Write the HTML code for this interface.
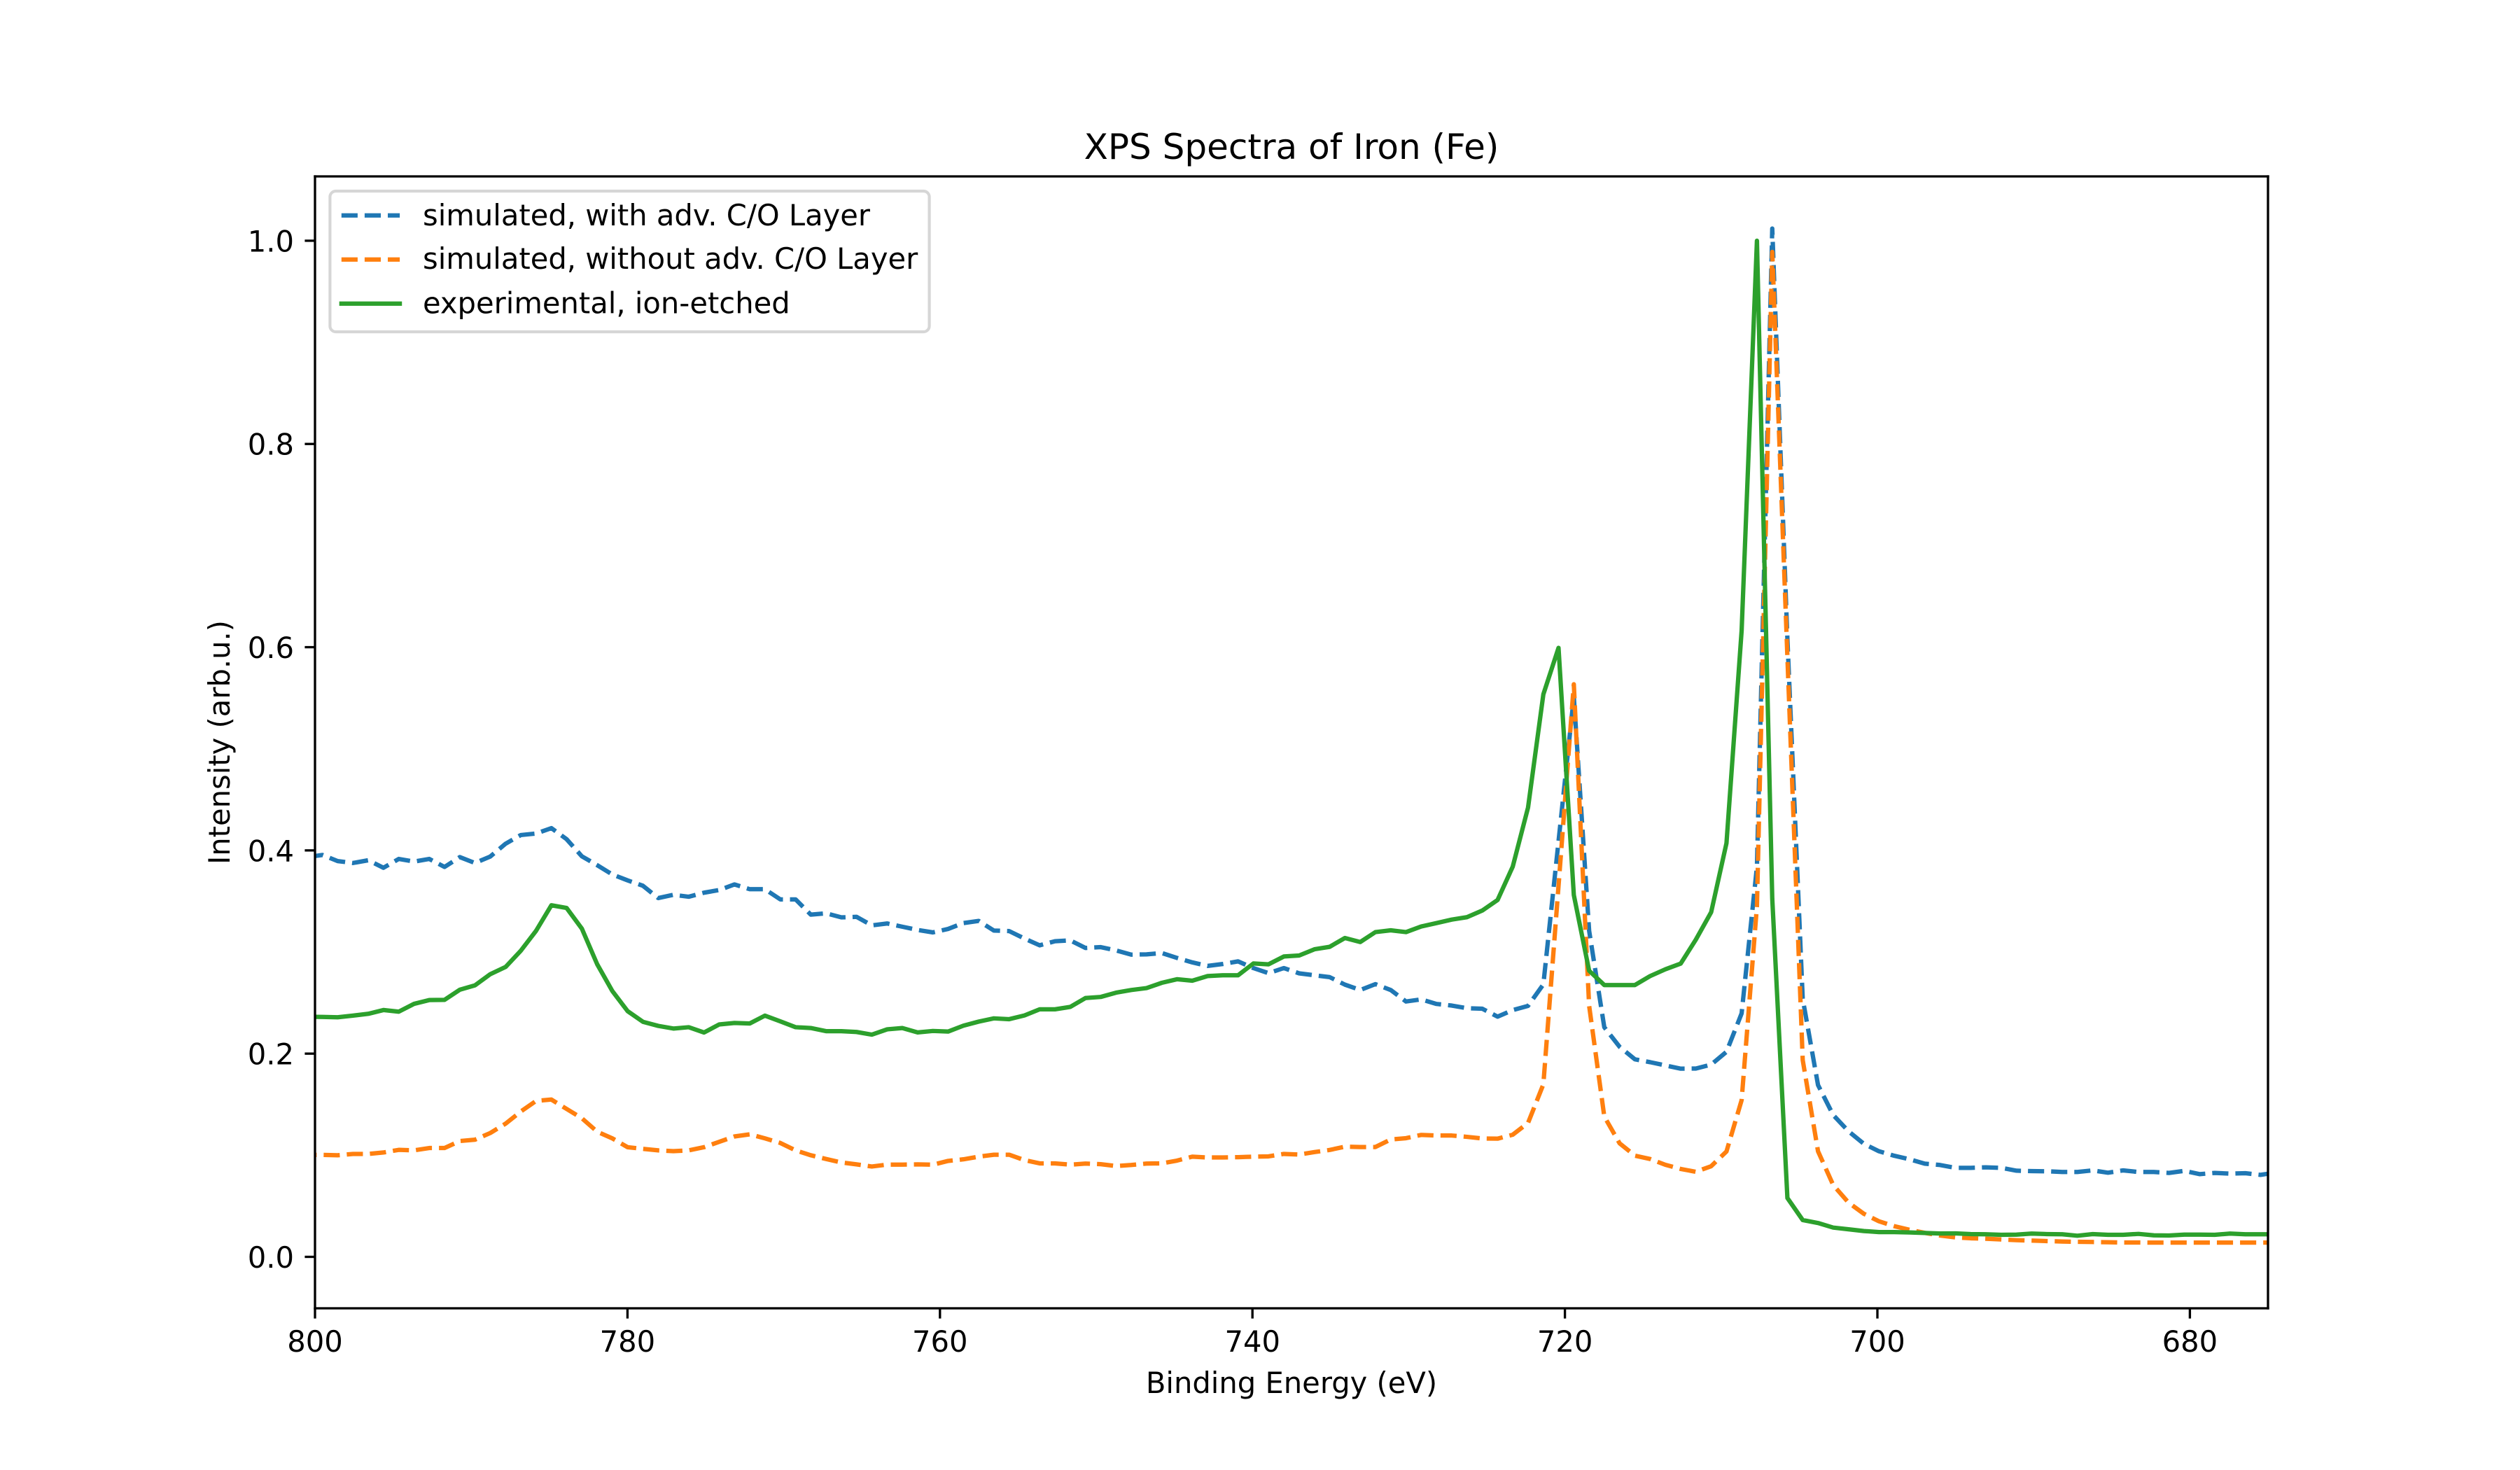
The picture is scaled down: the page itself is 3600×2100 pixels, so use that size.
<!DOCTYPE html>
<html lang="en">
<head>
<meta charset="utf-8">
<title>XPS Spectra of Iron (Fe)</title>
<style>
html,body{margin:0;padding:0;background:#fff;width:3600px;height:2100px;overflow:hidden}
svg{display:block}
text{font-family:"DejaVu Sans",sans-serif;fill:#000}
</style>
</head>
<body>
<svg id="chart" xmlns="http://www.w3.org/2000/svg" width="3600" height="2100" viewBox="0 0 3600 2100">
  <defs><clipPath id="plot-clip"><rect x="450" y="252" width="2790" height="1617"/></clipPath></defs>
  <rect x="0" y="0" width="3600" height="2100" fill="#fff"/>
  <g id="series-layer" clip-path="url(#plot-clip)"></g>
  <g id="tick-layer"></g>
  <g stroke="#000" stroke-width="3.33" fill="none" stroke-linecap="square">
    <line x1="450" y1="252" x2="450" y2="1869"/>
    <line x1="3240" y1="252" x2="3240" y2="1869"/>
    <line x1="450" y1="252" x2="3240" y2="252"/>
    <line x1="450" y1="1869" x2="3240" y2="1869"/>
  </g>
  <text x="1845" y="227" font-size="50" text-anchor="middle">XPS Spectra of Iron (Fe)</text>
  <text x="1845" y="1990" font-size="41.67" text-anchor="middle">Binding Energy (eV)</text>
  <text transform="translate(328,1060.5) rotate(-90)" font-size="41.67" text-anchor="middle">Intensity (arb.u.)</text>
  <g>
    <rect x="471.4" y="273" width="856.2" height="201" rx="8.3" ry="8.3" fill="#fff" fill-opacity="0.8" stroke="#d6d6d6" stroke-width="4.17"/>
    <g>
      <line x1="487.8" y1="307.7" x2="571.1" y2="307.7" stroke="#1f77b4" stroke-width="6.25" stroke-dasharray="23.1 10"/>
      <text x="604" y="322" font-size="41.67">simulated, with adv. C/O Layer</text>
    </g>
    <g>
      <line x1="487.8" y1="370.7" x2="571.1" y2="370.7" stroke="#ff7f0e" stroke-width="6.25" stroke-dasharray="23.1 10"/>
      <text x="604" y="384" font-size="41.67">simulated, without adv. C/O Layer</text>
    </g>
    <g>
      <line x1="487.8" y1="433.7" x2="571.1" y2="433.7" stroke="#2ca02c" stroke-width="6.25" stroke-linecap="square"/>
      <text x="604" y="447.3" font-size="41.67">experimental, ion-etched</text>
    </g>
  </g>
</svg>
<script>
const energies = [800.50,799.52,798.55,797.57,796.59,795.62,794.64,793.66,792.69,791.71,790.73,789.76,788.78,787.80,786.83,785.85,784.87,783.90,782.92,781.94,780.97,779.99,779.01,778.03,777.06,776.08,775.10,774.13,773.15,772.17,771.20,770.22,769.24,768.27,767.29,766.31,765.34,764.36,763.38,762.41,761.43,760.45,759.48,758.50,757.52,756.55,755.57,754.59,753.62,752.64,751.66,750.69,749.71,748.73,747.76,746.78,745.80,744.83,743.85,742.87,741.90,740.92,739.94,738.97,737.99,737.01,736.03,735.06,734.08,733.10,732.13,731.15,730.17,729.20,728.22,727.24,726.27,725.29,724.31,723.34,722.36,721.38,720.41,719.43,718.45,717.48,716.50,715.52,714.55,713.57,712.59,711.62,710.64,709.66,708.69,707.71,706.73,705.76,704.78,703.80,702.83,701.85,700.87,699.90,698.92,697.94,696.97,695.99,695.01,694.03,693.06,692.08,691.10,690.13,689.15,688.17,687.20,686.22,685.24,684.27,683.29,682.31,681.34,680.36,679.38,678.41,677.43,676.45,675.48,674.50];
const withLayer = [.3934,.3955,.3895,.3876,.3903,.3829,.3916,.3890,.3916,.3837,.3934,.3876,.3940,.4066,.4151,.4166,.4219,.4111,.3942,.3855,.3763,.3705,.3652,.3531,.3563,.3544,.3584,.3610,.3665,.3618,.3618,.3518,.3518,.3368,.3381,.3341,.3346,.3262,.3281,.3249,.3217,.3193,.3227,.3285,.3306,.3211,.3206,.3132,.3066,.3106,.3114,.3040,.3048,.3016,.2974,.2977,.2990,.2942,.2898,.2863,.2882,.2908,.2842,.2792,.2842,.2790,.2771,.2753,.2679,.2626,.2684,.2626,.2513,.2534,.2489,.2473,.2447,.2442,.2364,.2428,.2470,.2682,.4088,.5512,.3209,.2260,.2067,.1944,.1916,.1884,.1852,.1853,.1892,.2018,.2396,.384,1.012,.608,.2540,.1691,.1396,.1236,.1113,.1039,.0995,.0960,.0917,.0904,.0876,.0876,.0881,.0876,.0848,.0844,.0842,.0835,.0835,.0851,.0828,.0851,.0835,.0835,.0826,.0846,.0814,.0826,.0819,.0823,.0807,.0830];
const withoutLayer = [.1003,.1003,.1000,.1013,.1013,.1027,.1053,.1048,.1071,.1071,.1140,.1153,.1219,.1311,.1430,.1535,.1548,.1456,.1364,.1232,.1166,.1079,.1063,.1048,.1040,.1048,.1079,.1132,.1185,.1206,.1166,.1121,.1048,.1000,.0963,.0929,.0910,.0889,.0908,.0908,.0910,.0907,.0944,.0960,.0986,.1005,.1005,.0952,.0920,.0920,.0907,.0918,.0912,.0894,.0904,.0918,.0920,.0947,.0986,.0978,.0978,.0981,.0986,.0989,.1013,.1007,.1031,.1052,.1084,.1081,.1081,.1155,.1168,.1200,.1194,.1194,.1181,.1165,.1163,.1202,.1318,.1698,.3649,.5635,.2471,.1381,.1117,.0996,.0963,.0906,.0865,.0837,.0892,.1037,.1542,.345,.989,.59,.1937,.1039,.0707,.0534,.0424,.0350,.0302,.0266,.0236,.0210,.0192,.0183,.0178,.0171,.0164,.0160,.0155,.0151,.0148,.0146,.0144,.0141,.0141,.0140,.0140,.0140,.0140,.0140,.0140,.0140,.0140,.0140];
const experimental = [.2363,.2361,.2358,.2374,.2392,.2429,.2413,.2490,.2527,.2529,.2629,.2672,.2782,.2853,.3012,.3209,.3460,.3434,.3230,.2880,.2616,.2418,.2313,.2273,.2247,.2260,.2208,.2287,.2302,.2297,.2374,.2318,.2260,.2252,.2221,.2221,.2213,.2187,.2239,.2252,.2209,.2223,.2217,.2275,.2315,.2347,.2339,.2376,.2436,.2436,.2460,.2547,.2558,.2600,.2626,.2645,.2697,.2732,.2718,.2763,.2771,.2771,.2887,.2879,.2956,.2966,.3027,.3051,.3138,.3098,.3196,.3214,.3196,.3251,.3285,.3319,.3343,.3408,.3512,.3840,.4422,.5536,.5993,.3561,.2816,.2675,.2675,.2675,.2763,.2830,.2886,.3122,.3392,.4071,.6162,1.0,.3526,.0579,.0362,.0333,.0288,.0271,.0254,.0244,.0244,.0240,.0235,.0230,.0231,.0224,.0222,.0217,.0219,.0229,.0224,.0222,.0208,.0224,.0217,.0217,.0226,.0212,.0210,.0219,.0219,.0217,.0229,.0222,.0222,.0222];
const xTickLabels = ["800","780","760","740","720","700","680"];
const yTickLabels = ["0.0","0.2","0.4","0.6","0.8","1.0"];

const SVG_NS = "http://www.w3.org/2000/svg";
function xScale(e){ return 450 + (800 - e) * 22.32; }
function yScale(v){ return 1795.5 - v * 1451.6; }

const seriesLayer = document.getElementById("series-layer");
const tickLayer = document.getElementById("tick-layer");

function drawSeries(values, colour, dashOffset, name){
  const path = document.createElementNS(SVG_NS, "path");
  
  
  let d = "";
  for (let i = 0; i < values.length; i++) {
    d += (i ? "L" : "M") + xScale(energies[i]).toFixed(2) + " " + yScale(values[i]).toFixed(2);
  }
  path.setAttribute("d", d);
  path.setAttribute("fill", "none");
  path.setAttribute("stroke", colour);
  path.setAttribute("stroke-width", "6.25");
  path.setAttribute("stroke-linejoin", "round");
  if (dashOffset !== null) {
    path.setAttribute("stroke-dasharray", "23.1 10");
    path.setAttribute("stroke-dashoffset", dashOffset);
  }
  seriesLayer.appendChild(path);
}
drawSeries(withLayer, "#1f77b4", 0, "series-simulated-with-layer");
drawSeries(withoutLayer, "#ff7f0e", 9.6, "series-simulated-without-layer");
drawSeries(experimental, "#2ca02c", null, "series-experimental");

xTickLabels.forEach(function(label){
  const x = xScale(Number(label));
  const tick = document.createElementNS(SVG_NS, "line");
  
  
  tick.setAttribute("x1", x); tick.setAttribute("x2", x);
  tick.setAttribute("y1", 1869); tick.setAttribute("y2", 1883.6);
  tick.setAttribute("stroke", "#000"); tick.setAttribute("stroke-width", "3.33");
  tickLayer.appendChild(tick);
  const text = document.createElementNS(SVG_NS, "text");
  
  
  text.setAttribute("x", x); text.setAttribute("y", 1931);
  text.setAttribute("font-size", "41.67");
  text.setAttribute("text-anchor", "middle");
  text.textContent = label;
  tickLayer.appendChild(text);
});

yTickLabels.forEach(function(label){
  const y = yScale(Number(label));
  const tick = document.createElementNS(SVG_NS, "line");
  
  
  tick.setAttribute("x1", 450); tick.setAttribute("x2", 435.4);
  tick.setAttribute("y1", y); tick.setAttribute("y2", y);
  tick.setAttribute("stroke", "#000"); tick.setAttribute("stroke-width", "3.33");
  tickLayer.appendChild(tick);
  const text = document.createElementNS(SVG_NS, "text");
  
  
  text.setAttribute("x", 420); text.setAttribute("y", y + 15.5);
  text.setAttribute("font-size", "41.67");
  text.setAttribute("text-anchor", "end");
  text.textContent = label;
  tickLayer.appendChild(text);
});
</script>
</body>
</html>
